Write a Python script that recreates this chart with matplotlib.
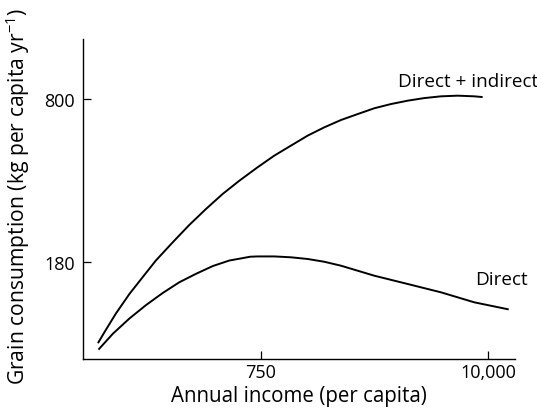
import matplotlib
matplotlib.use("Agg")
import matplotlib.pyplot as plt

plt.rcParams["font.family"] = ["Open Sans", "DejaVu Sans"]
plt.rcParams["mathtext.default"] = "regular"

# annual income per capita and grain consumption (kg per capita per year)
income_total = [118, 128, 144, 168, 195, 227, 275, 332, 402, 486, 587, 724, 875,
                1059, 1281, 1547, 1872, 2265, 2736, 3310, 4004, 4838, 5853, 7079, 8553, 9307]
grain_total = [86, 96, 112, 134, 156, 182, 215, 252, 292, 335, 378, 428, 476,
               522, 572, 617, 660, 697, 735, 764, 788, 807, 820, 825, 820, 815]

income_direct = [119, 139, 168, 203, 245, 296, 358, 434, 524, 666, 724, 875,
                 1059, 1281, 1547, 1872, 2736, 4004, 5853, 8553, 12520]
grain_direct = [81, 93, 107, 121, 135, 149, 161, 173, 182, 188.5, 189, 189,
                187.5, 184.6, 180, 173.6, 158.4, 146.8, 136, 124.1, 116.5]

x_ticks = [750, 10000]
x_ticklabels = ["750", "10,000"]
y_ticks = [180, 800]
y_ticklabels = ["180", "800"]

fig = plt.figure(figsize=(5.37, 4.14), dpi=100)
ax = fig.add_axes([0.1546, 0.1304, 0.959 - 0.1546, 0.9034 - 0.1304])

ax.plot(income_total, grain_total, color="black", lw=1.4, solid_joinstyle="round")
ax.plot(income_direct, grain_direct, color="black", lw=1.4, solid_joinstyle="round")

ax.set_xscale("log")
ax.set_yscale("log")
ax.set_xlim(99, 13600)
ax.set_ylim(73.8, 1387)

ax.minorticks_off()
ax.set_xticks(x_ticks)
ax.set_xticklabels(x_ticklabels)
ax.set_yticks(y_ticks)
ax.set_yticklabels(y_ticklabels)
ax.tick_params(axis="both", direction="in", length=6, width=0.9, labelsize=13, colors="black")
ax.tick_params(axis="x", pad=3)
ax.tick_params(axis="y", pad=6)

for side in ["top", "right"]:
    ax.spines[side].set_visible(False)
for side in ["left", "bottom"]:
    ax.spines[side].set_linewidth(1.0)

ax.text(3585, 943, "Direct + indirect", fontsize=13.6, ha="left", va="center")
ax.text(8620, 154, "Direct", fontsize=13.6, ha="left", va="center")

ax.set_xlabel("Annual income (per capita)", fontsize=14.8, labelpad=3)
fig.text(18 / 537, 1 - 196 / 414, "Grain consumption (kg per capita yr$^{\u22121}$)",
         rotation=90, ha="center", va="center", fontsize=15.2)

fig.savefig("out.png", dpi=100)
